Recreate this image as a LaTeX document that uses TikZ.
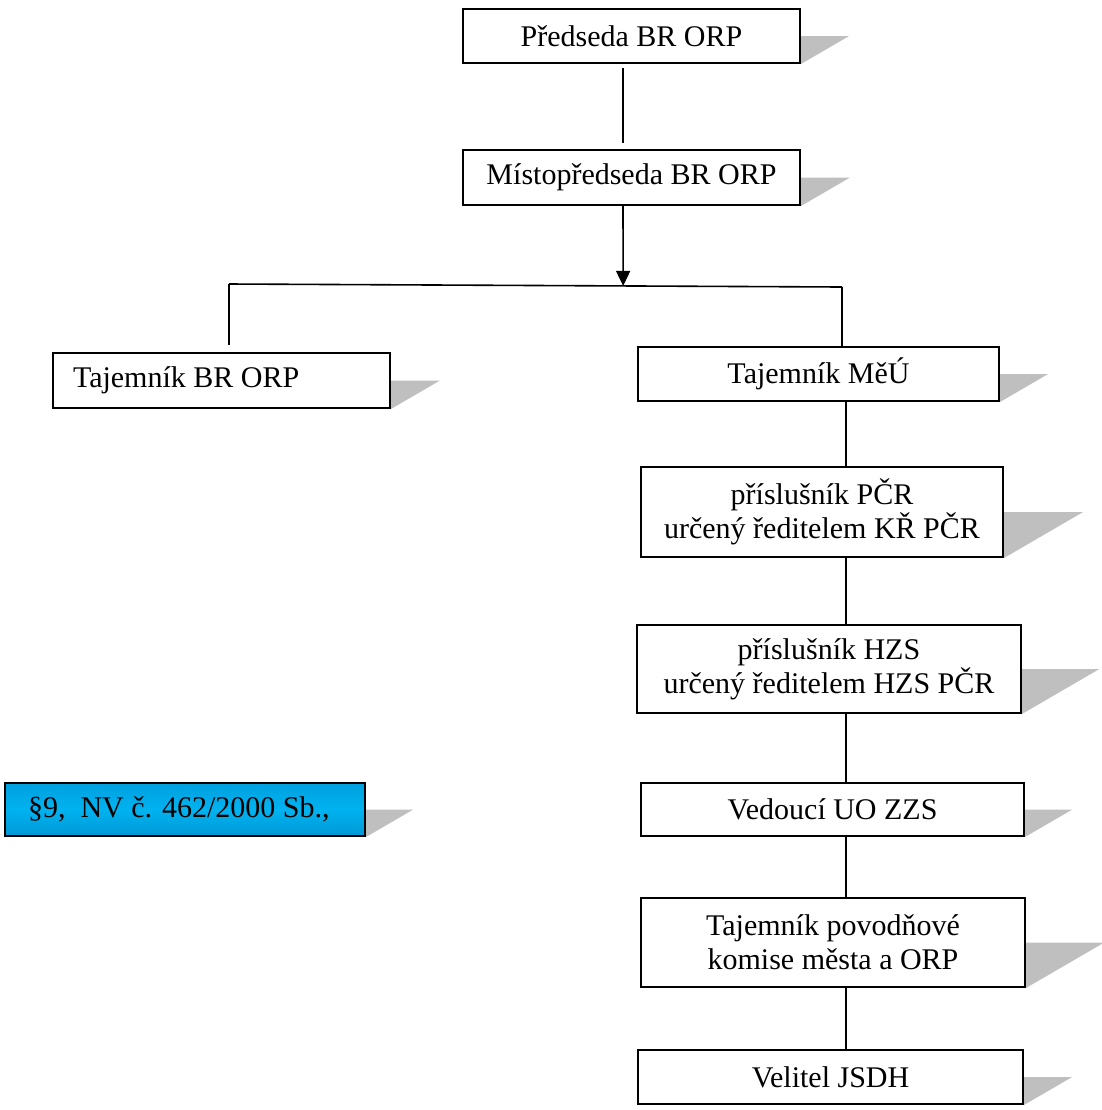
\documentclass[tikz,border=0pt]{standalone}
\usepackage{fontspec}
\setmainfont{Liberation Serif}
\usepackage{tikz}
\usetikzlibrary{positioning,calc,arrows.meta,backgrounds}

\begin{document}
\begin{tikzpicture}[x=0.5pt, y=-0.5pt,
    box/.style={draw, line width=1pt, fill=white, inner sep=0pt, align=center,
      font=\fontsize{15}{17}\selectfont},
    conn/.style={line width=0.8pt},
    shadowgray/.style={fill=black!25}]
      \useasboundingbox (0,0) rectangle (1102,1110);
      \node[box, minimum width=168.5pt, minimum height=27pt] (pred) at (631.5,36) {Předseda BR ORP};
      \node[box, minimum width=168.5pt, minimum height=27.5pt] (misto) at (631.5,177.5) {Místopředseda BR ORP};
      \node[box, minimum height=27.5pt, inner xsep=10pt] (tajbr) at (221.5,380.5) {\makebox[148.5pt][l]{Tajemník BR ORP}};
      \node[box, minimum width=180.5pt, minimum height=27pt] (meu) at (818.5,374) {Tajemník MěÚ};
      \node[box, minimum width=181pt, minimum height=45pt] (pcr) at (822,512) {příslušník PČR\\určený ředitelem KŘ PČR};
      \node[box, minimum width=192pt, minimum height=44pt] (hzs) at (829,669) {příslušník HZS\\určený ředitelem HZS PČR};
      \node[box, minimum width=191.5pt, minimum height=26.5pt] (zzs) at (832.5,809.5) {Vedoucí UO ZZS};
      \node[box, minimum width=192pt, minimum height=44.5pt] (pov) at (833,942.5) {Tajemník povodňové\\komise města a ORP};
      \node[box, minimum width=192.5pt, minimum height=27pt] (jsdh) at (830.5,1077) {Velitel JSDH};
      \node[box, minimum height=26.5pt, inner xsep=11.5pt,
        top color={rgb,255:red,0;green,160;blue,222}, bottom color={rgb,255:red,0;green,152;blue,212},
        middle color={rgb,255:red,0;green,178;blue,240}] (par) at (185,809.5) {\makebox[157pt][l]{§9,\ \ NV č. 462/2000 Sb.,}};
      \begin{scope}[on background layer]
        \foreach \b in {pred,misto,tajbr,meu,pcr,hzs,zzs,pov,jsdh,par}
          \fill[shadowgray] let \p1=($(\b.north east)-(\b.south east)$) in
            (\b.east) -- ++({0.86*\y1},0pt) -- (\b.south east) -- cycle;
      \end{scope}
      \coordinate (brL) at (229,284);
      \coordinate (brR) at (842,287);
      \coordinate (split) at ($(brL)!0.643!(brR)$);
      \coordinate (spine) at (846,0);
      \draw[conn, shorten <=2pt, shorten >=3pt] ([xshift=-4.25pt]pred.south) -- ([xshift=-4.25pt]misto.north);
      \draw[conn, -{Triangle[width=7pt,length=7.5pt]}] ([xshift=-4.25pt]misto.south) -- (split);
      \draw[conn] (brL) -- (brR);
      \draw[conn, shorten >=3.5pt] (brL) -- (brL |- tajbr.north);
      \draw[conn] (brR) -- (brR |- meu.north);
      \draw[conn] (meu.south -| spine) -- (pcr.north -| spine);
      \draw[conn] (pcr.south -| spine) -- (hzs.north -| spine);
      \draw[conn] (hzs.south -| spine) -- (zzs.north -| spine);
      \draw[conn] (zzs.south -| spine) -- (pov.north -| spine);
      \draw[conn] (pov.south -| spine) -- (jsdh.north -| spine);
    \end{tikzpicture}
\end{document}
